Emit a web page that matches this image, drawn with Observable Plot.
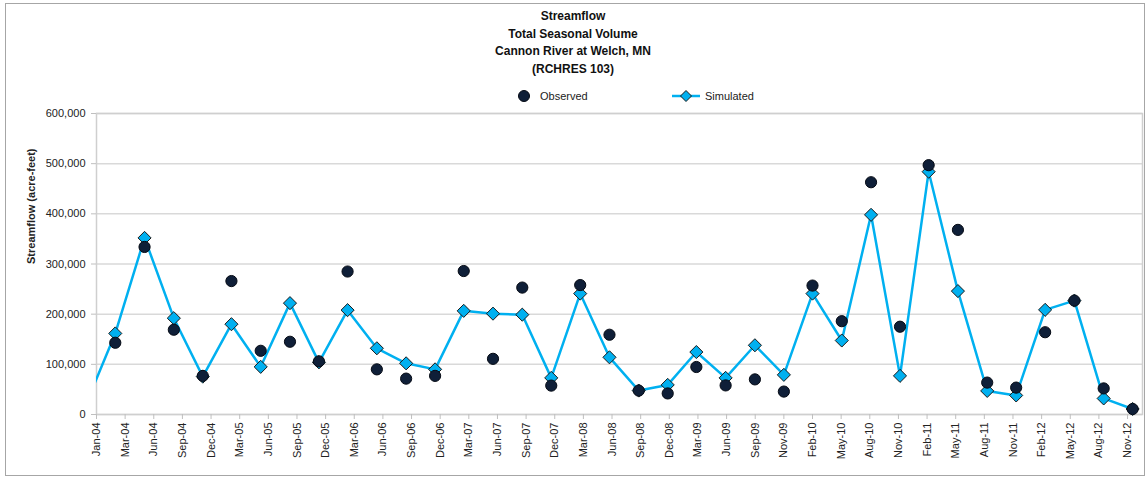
<!DOCTYPE html>
<html>
<head>
<meta charset="utf-8">
<script src="https://cdn.jsdelivr.net/npm/d3@7"></script>
<script src="https://cdn.jsdelivr.net/npm/@observablehq/plot@0.6"></script>
<style>
  html, body { margin: 0; padding: 0; background: #fff; }
  body { width: 1146px; height: 479px; position: relative; overflow: hidden; font-family: "Liberation Sans", Arial, sans-serif; color: #222; }
  #border { position: absolute; left: 5px; top: 3px; width: 1138px; height: 471px; border: 1px solid #a6a6a6; pointer-events: none; }
  #header { position: relative; height: 105px; }
  #title { position: absolute; left: 0; width: 1146px; top: 8px; text-align: center; font-weight: bold; font-size: 12px; line-height: 17.7px; color: #111; }
  .leg { position: absolute; top: 89px; height: 14px; font-size: 11px; line-height: 14px; color: #222; }
  .leg svg { position: absolute; top: 0; }
  #chart { position: relative; }
</style>
</head>
<body>
<div id="border"></div>
<div id="header">
  <div id="title"></div>
  <div class="leg" style="left:516px;"><svg width="16" height="14"><circle cx="8" cy="7" r="5.5" fill="#0f1f38" stroke="#050a14" stroke-width="1"/></svg><span style="position:absolute;left:24px;white-space:nowrap">Observed</span></div>
  <div class="leg" style="left:672px;"><svg width="30" height="14"><line x1="0" y1="7" x2="28" y2="7" stroke="#00b0f0" stroke-width="2.5"/><path d="M14,1.5L19.5,7L14,12.5L8.5,7Z" fill="#00b0f0" stroke="#1a1a1a" stroke-width="1"/></svg><span style="position:absolute;left:33px;white-space:nowrap">Simulated</span></div>
</div>
<div id="chart"></div>
<script>
const titleLines = ["Streamflow", "Total Seasonal Volume", "Cannon River at Welch, MN", "(RCHRES 103)"];
const yLabel = "Streamflow (acre-feet)";

// Season ending month of each seasonal total
const seasons = ["Nov-03","Feb-04","May-04","Aug-04","Nov-04","Feb-05","May-05","Aug-05","Nov-05",
  "Feb-06","May-06","Aug-06","Nov-06","Feb-07","May-07","Aug-07","Nov-07",
  "Feb-08","May-08","Aug-08","Nov-08","Feb-09","May-09","Aug-09","Nov-09",
  "Feb-10","May-10","Aug-10","Nov-10","Feb-11","May-11","Aug-11","Nov-11",
  "Feb-12","May-12","Aug-12","Nov-12"];
const simulated = [22000, 161600, 352000, 192000, 75500, 180000, 95000, 222000, 104000,
  208000, 132000, 102000, 90000, 206600, 201000, 199000, 73000,
  241000, 114000, 47700, 59000, 124500, 73000, 138000, 79000,
  241000, 147500, 398000, 77000, 484000, 246000, 47000, 38000,
  208600, 227000, 32000, 11000];
const observed = [null, 143000, 334000, 169000, 77000, 266000, 127000, 145000, 106000,
  285000, 90000, 71500, 77000, 286000, 111000, 253000, 57600,
  258000, 159000, 47700, 42000, 94700, 58000, 70000, 45700,
  257000, 186000, 463000, 175000, 497000, 368000, 63600, 53600,
  164000, 227000, 52000, 11000];

const xTickLabels = ["Jan-04","Mar-04","Jun-04","Sep-04","Dec-04","Mar-05","Jun-05","Sep-05","Dec-05",
  "Mar-06","Jun-06","Sep-06","Dec-06","Mar-07","Jun-07","Sep-07","Dec-07",
  "Mar-08","Jun-08","Sep-08","Dec-08","Mar-09","Jun-09","Sep-09","Nov-09",
  "Feb-10","May-10","Aug-10","Nov-10","Feb-11","May-11","Aug-11","Nov-11",
  "Feb-12","May-12","Aug-12","Nov-12"];
const yTicks = [0, 100000, 200000, 300000, 400000, 500000, 600000];

document.getElementById("title").innerHTML = titleLines.map(t => `<div>${t}</div>`).join("");

const parse = d3.utcParse("%b-%y");
const endOfMonth = d => d3.utcDay.offset(d3.utcMonth.offset(parse(d), 1), -1);
const table = seasons.map((s, i) => ({date: endOfMonth(s), sim: simulated[i], obs: observed[i]}));

// Excel date axis: first label at 1 Jan 2004, one label every 90 days
const axisStart = new Date(Date.UTC(2004, 0, 1));
const tickDates = xTickLabels.map((_, i) => d3.utcDay.offset(axisStart, 90 * i));
const labelOf = new Map(tickDates.map((d, i) => [+d, xTickLabels[i]]));

const chart = Plot.plot({
  width: 1146,
  height: 374,
  marginLeft: 96,
  marginRight: 4,
  marginTop: 8,
  marginBottom: 65,
  style: {fontFamily: "Liberation Sans, Arial, sans-serif", fontSize: "11px", color: "#222", background: "transparent"},
  x: {type: "utc", domain: [axisStart, new Date(Date.UTC(2012, 11, 31))]},
  y: {domain: [0, 600000]},
  marks: [
    Plot.gridY(yTicks, {stroke: "#d9d9d9", strokeOpacity: 1, strokeWidth: 1.5}),
    Plot.frame({stroke: "#cfcfcf", strokeWidth: 1.5}),
    Plot.axisY(yTicks, {tickFormat: d3.format(","), tickSize: 5, tickPadding: 6, stroke: "#bfbfbf", label: null}),
    Plot.axisX(tickDates, {tickFormat: d => labelOf.get(+d), tickRotate: -90, tickSize: 5, tickPadding: 3, stroke: "#bfbfbf", label: null}),
    Plot.text([yLabel], {frameAnchor: "left", dx: -65, rotate: -90, text: d => d, fontWeight: "bold", fontSize: 11, fill: "#222"}),
    Plot.line(table, {x: "date", y: "sim", stroke: "#00b0f0", strokeWidth: 2.5, clip: true}),
    Plot.dot(table.filter(d => d.date >= axisStart), {x: "date", y: "sim", symbol: "diamond2", r: 5.9, fill: "#00b0f0", stroke: "#1a1a1a", strokeWidth: 1}),
    Plot.dot(table.filter(d => d.obs != null), {x: "date", y: "obs", symbol: "circle", r: 5.6, fill: "#0f1f38", stroke: "#050a14", strokeWidth: 1})
  ]
});
document.getElementById("chart").appendChild(chart);
</script>
</body>
</html>
